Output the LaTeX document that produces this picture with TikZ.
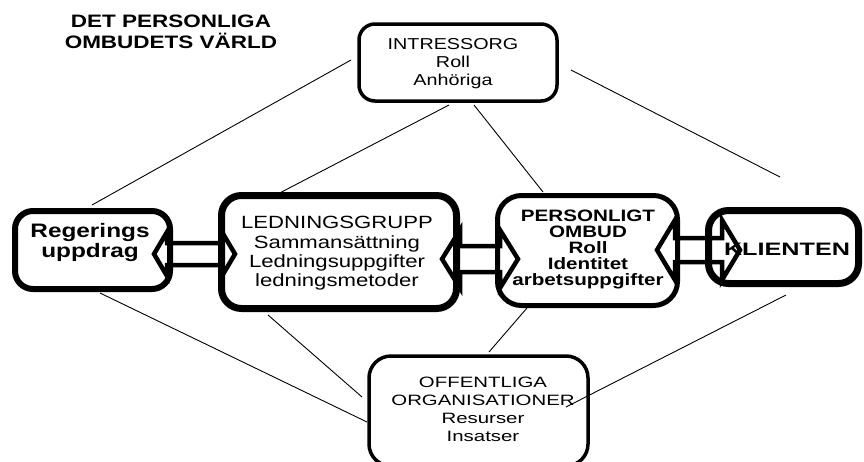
\documentclass[tikz,border=0pt]{standalone}
\usepackage{fontspec}
\setmainfont{Liberation Sans}[FakeStretch=1.25]
\newfontfamily\widefont{Liberation Sans}[FakeStretch=1.36]
\newfontfamily\widerfont{Liberation Sans}[FakeStretch=1.4]
\usetikzlibrary{calc}
% hollow double-headed block arrow: xL, xR, yc, head half-height, shaft half-height, head length
\newcommand\twinarrow[6]{%
  \draw[blockarrow] (#1,#3) -- ({#1+#6},{#3-#4}) -- ({#1+#6},{#3-#5}) -- ({#2-#6},{#3-#5})
    -- ({#2-#6},{#3-#4}) -- (#2,#3) -- ({#2-#6},{#3+#4}) -- ({#2-#6},{#3+#5})
    -- ({#1+#6},{#3+#5}) -- ({#1+#6},{#3+#4}) -- cycle;}
\begin{document}
\begin{tikzpicture}[x=1pt,y=-1pt,
  box/.style={draw, rounded corners=18pt, fill=white, inner sep=0pt},
  link/.style={line width=0.9pt},
  blockarrow/.style={line width=4.5pt, line join=miter},
  txt/.style={align=center, inner sep=0pt}]
\useasboundingbox (0,0) rectangle (864,461);

% boxes
\node[box, rounded corners=16pt, line width=3.5pt, minimum width=198pt, minimum height=77pt] (intr) at (458,62.5) {};
\node[box, line width=6pt, minimum width=155pt, minimum height=78pt] (reg) at (92.5,250) {};
\node[box, rounded corners=20pt, line width=7pt, minimum width=235pt, minimum height=113pt] (led) at (339,252) {};
\node[box, rounded corners=24pt, line width=5pt, minimum width=180pt, minimum height=110pt] (omb) at (587.5,250.5) {};
\node[box, rounded corners=20pt, line width=7pt, minimum width=150pt, minimum height=73pt] (kli) at (783.5,247) {};
\node[box, rounded corners=22pt, line width=3.5pt, minimum width=219pt, minimum height=110pt] (off) at (478.5,411) {};

% connecting lines
\coordinate (l1a) at (351,60);  \coordinate (l1b) at (92,205);
\coordinate (l2a) at (449,105); \coordinate (l2b) at (270,198);
\coordinate (l3a) at (474,105); \coordinate (l3b) at (543,192);
\coordinate (l4a) at (571,70);  \coordinate (l4b) at (780,177);
\coordinate (l5a) at (100,293); \coordinate (l5b) at (367,422);
\coordinate (l6a) at (268,315); \coordinate (l6b) at (362,397);
\coordinate (l7a) at (527,308); \coordinate (l7b) at (489,352);
\coordinate (l8a) at (786,295); \coordinate (l8b) at (566,407);
\foreach \i in {1,...,8} \draw[link] (l\i a) -- (l\i b);

% block arrows between the central boxes
\twinarrow{154}{235}{254}{22}{11}{13}
\twinarrow{442}{518}{259}{29}{13}{18}
\twinarrow{657}{740}{250}{30}{12}{18}

% texts
\node[txt, font=\bfseries\fontsize{18}{21}\selectfont] (title) at (171,32.3)
  {DET PERSONLIGA\\OMBUDETS VÄRLD};
\node[txt, font=\fontsize{15.8}{18}\selectfont] (intrt) at (453,64)
  {INTRESSORG\\Roll\\Anhöriga};
\node[txt, font=\bfseries\fontsize{19.5}{20}\selectfont] (regt) at (90,242)
  {Regerings\\uppdrag};
\node[txt, font=\fontsize{17.7}{19.3}\selectfont] (ledt) at (337,253.5)
  {LEDNINGSGRUPP\\Sammansättning\\Ledningsuppgifter\\ledningsmetoder};
\node[txt, font=\bfseries\fontsize{16.5}{16}\selectfont] (ombt) at (588,249)
  {PERSONLIGT\\OMBUD\\Roll\\Identitet\\arbetsuppgifter};
\node[txt, font=\widerfont\bfseries\fontsize{18}{20}\selectfont] (klit) at (787,249)
  {KLIENTEN};
\node[txt, font=\widefont\fontsize{15}{18}\selectfont] (offt) at (483,409.5)
  {OFFENTLIGA\\ORGANISATIONER\\Resurser\\Insatser};
\end{tikzpicture}
\end{document}
